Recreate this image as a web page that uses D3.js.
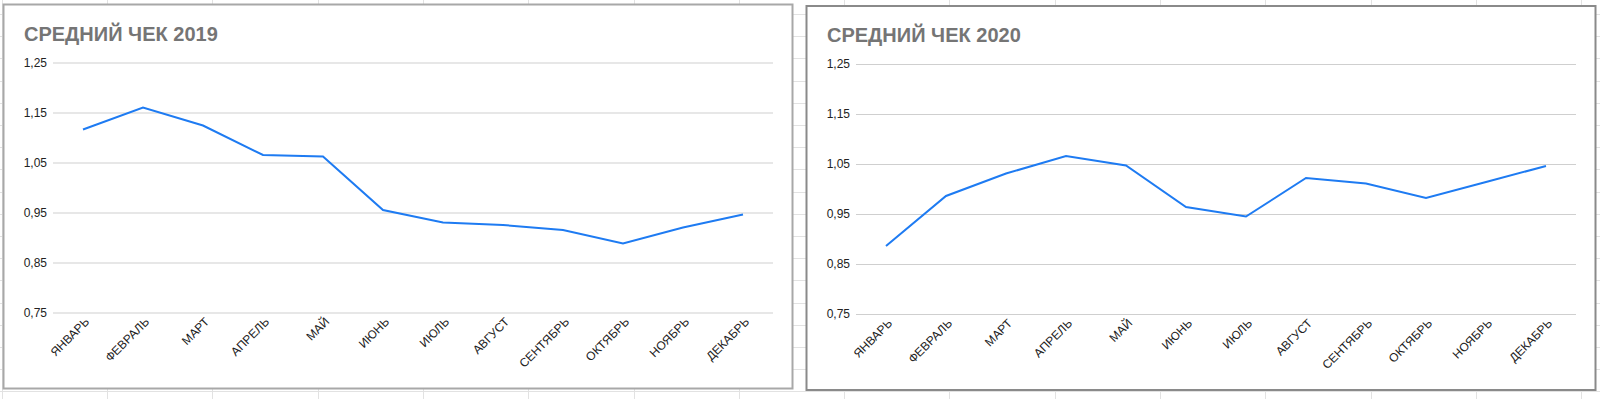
<!DOCTYPE html>
<html>
<head>
<meta charset="utf-8">
<script src="https://cdn.jsdelivr.net/npm/d3@7"></script>
<style>
  body { margin: 0; background: #fff; }
  svg { display: block; font-family: "Liberation Sans", Arial, sans-serif; }
</style>
</head>
<body>
<div id="chart"></div>
<script>
var months = ["ЯНВАРЬ", "ФЕВРАЛЬ", "МАРТ", "АПРЕЛЬ", "МАЙ", "ИЮНЬ", "ИЮЛЬ", "АВГУСТ", "СЕНТЯБРЬ", "ОКТЯБРЬ", "НОЯБРЬ", "ДЕКАБРЬ"];
var values2019 = [1.116, 1.160, 1.124, 1.065, 1.062, 0.955, 0.930, 0.925, 0.915, 0.888, 0.920, 0.946];
var values2020 = [0.886, 0.986, 1.031, 1.066, 1.047, 0.964, 0.945, 1.022, 1.011, 0.982, 1.014, 1.046];
var yTicks = [0.75, 0.85, 0.95, 1.05, 1.15, 1.25];
var titles = ["СРЕДНИЙ ЧЕК 2019", "СРЕДНИЙ ЧЕК 2020"];

var width = 1600, height = 399;

var svg = d3.select("#chart").append("svg")
  .attr("width", width)
  .attr("height", height);

svg.append("rect").attr("width", width).attr("height", height).attr("fill", "#fff");

// spreadsheet cells behind the charts
var sheet = svg.append("g").attr("class", "sheet");
sheet.selectAll("line.col")
  .data(d3.range(0, 16))
  .enter().append("line")
  .attr("class", "col")
  .attr("x1", function(k) { return Math.round(1.7 + k * 105.3) + 0.5; })
  .attr("x2", function(k) { return Math.round(1.7 + k * 105.3) + 0.5; })
  .attr("y1", 0).attr("y2", height)
  .attr("stroke", "#e2e2e2");
sheet.selectAll("line.row")
  .data(d3.range(0, 18))
  .enter().append("line")
  .attr("class", "row")
  .attr("y1", function(k) { return Math.round(14 + k * 22.2) + 0.5; })
  .attr("y2", function(k) { return Math.round(14 + k * 22.2) + 0.5; })
  .attr("x1", 0).attr("x2", width)
  .attr("stroke", "#e2e2e2");

function drawChart(g, title, values, borderColor) {
  g.append("rect")
    .attr("x", 3.5).attr("y", 4.5)
    .attr("width", 789).attr("height", 384)
    .attr("fill", "#fff")
    .attr("stroke", borderColor)
    .attr("stroke-width", 2);

  g.append("text")
    .attr("x", 24).attr("y", 40.5)
    .attr("fill", "#757575")
    .attr("font-size", 20)
    .attr("font-weight", "bold")
    .text(title);

  var x = d3.scaleBand().domain(months).range([53, 773]);
  var y = d3.scaleLinear().domain([0.75, 1.25]).range([312.5, 62.5]);

  var yAxis = d3.axisLeft(y)
    .tickValues(yTicks)
    .tickSize(-720)
    .tickPadding(6)
    .tickFormat(function(d) { return d3.format(".2f")(d).replace(".", ","); });

  var ya = g.append("g")
    .attr("transform", "translate(53,0)")
    .call(yAxis);
  ya.select(".domain").remove();
  ya.selectAll("line").attr("stroke", "#cfcfcf").attr("stroke-width", 1.2);
  ya.selectAll("text")
    .attr("fill", "#222")
    .attr("font-size", 12)
    .attr("font-family", "Liberation Sans, Arial, sans-serif");

  var xAxis = d3.axisBottom(x).tickSize(0);
  var xa = g.append("g")
    .attr("transform", "translate(0,312.5)")
    .call(xAxis);
  xa.select(".domain").remove();
  xa.selectAll("text")
    .attr("x", 0).attr("y", 0).attr("dy", 0)
    .attr("text-anchor", "end")
    .attr("transform", "translate(7,10) rotate(-45)")
    .attr("fill", "#222")
    .attr("font-size", 12)
    .attr("font-family", "Liberation Sans, Arial, sans-serif");

  var line = d3.line()
    .x(function(d, i) { return x(months[i]) + x.bandwidth() / 2; })
    .y(function(d) { return y(d); });

  g.append("path")
    .datum(values)
    .attr("d", line)
    .attr("fill", "none")
    .attr("stroke", "#1e7bf2")
    .attr("stroke-width", 2);
}

drawChart(svg.append("g"), titles[0], values2019, "#a8a8a8");
drawChart(svg.append("g").attr("transform", "translate(803,1.5)"), titles[1], values2020, "#8a8a8a");
</script>
</body>
</html>
